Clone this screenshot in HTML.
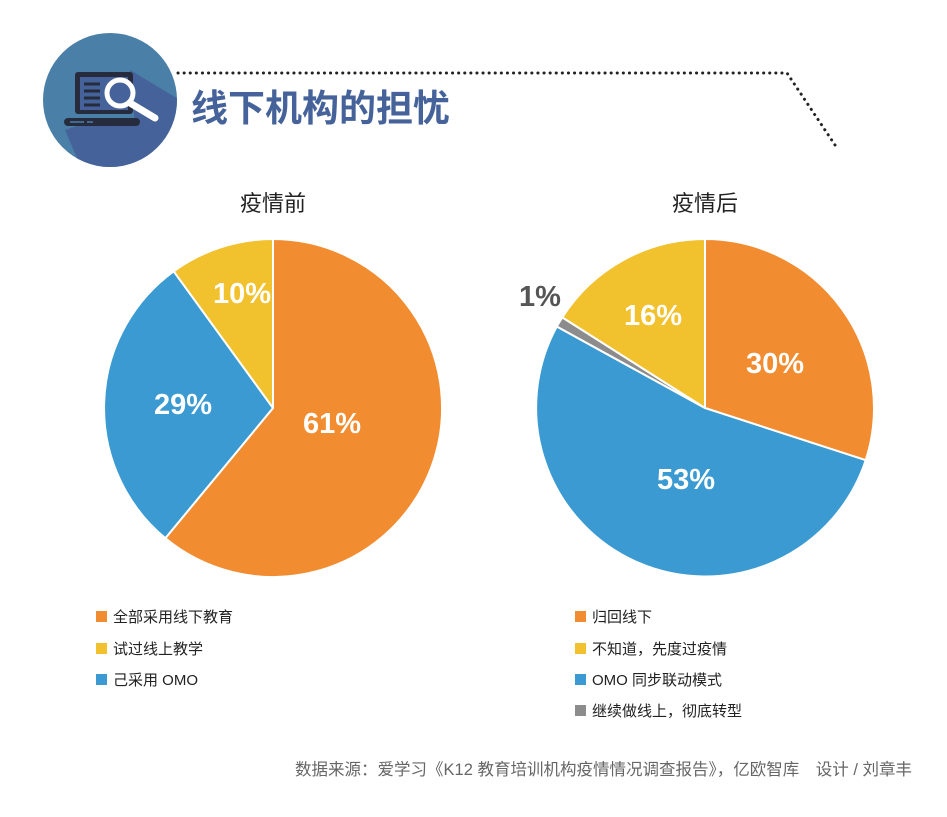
<!DOCTYPE html>
<html><head><meta charset="utf-8"><style>
body{margin:0;background:#fff;}
svg text{font-family:"Liberation Sans","Noto Sans CJK SC",sans-serif;}
</style></head><body>
<svg width="947" height="812" viewBox="0 0 947 812" xmlns="http://www.w3.org/2000/svg">
<defs><clipPath id="cc"><circle cx="110" cy="100" r="67"/></clipPath></defs>
<circle cx="110" cy="100" r="67" fill="#4A7FA7"/>
<polygon clip-path="url(#cc)" points="130,70 180,100 200,200 95,200 65,130 80,125 135,125" fill="#45639A"/>
<rect x="75" y="72" width="58" height="42" rx="3" fill="#262B3D"/>
<rect x="80" y="77" width="48" height="33" fill="#45639A"/>
<g stroke="#262B3D" stroke-width="3"><line x1="84" y1="84" x2="100" y2="84"/><line x1="84" y1="91" x2="100" y2="91"/><line x1="84" y1="98" x2="100" y2="98"/><line x1="84" y1="105" x2="100" y2="105"/></g>
<rect x="64" y="118" width="76" height="8" rx="4" fill="#262B3D"/>
<line x1="70" y1="122" x2="84" y2="122" stroke="#4A7FA7" stroke-width="1.5"/><line x1="87" y1="122" x2="93" y2="122" stroke="#4A7FA7" stroke-width="1.5"/>
<circle cx="120" cy="93" r="13" fill="#45639A" stroke="#fff" stroke-width="5"/>
<line x1="130" y1="103" x2="155" y2="118" stroke="#fff" stroke-width="7" stroke-linecap="round"/>
<text x="191" y="121" font-size="37" font-weight="bold" fill="#45639A">线下机构的担忧</text>
<polyline points="178,73 787,73 835,145" fill="none" stroke="#222" stroke-width="3" stroke-dasharray="0.1 6" stroke-linecap="round"/>
<text x="273" y="211" font-size="22" text-anchor="middle" fill="#222">疫情前</text>
<text x="705" y="211" font-size="22" text-anchor="middle" fill="#222">疫情后</text>
<g stroke="#fff" stroke-width="2" stroke-linejoin="round">
<path d="M273,408 L273,239 A169,169 0 1 1 165.3,538.2 Z" fill="#F28C30"/>
<path d="M273,408 L165.3,538.2 A169,169 0 0 1 173.7,271.3 Z" fill="#3A9AD1"/>
<path d="M273,408 L173.7,271.3 A169,169 0 0 1 273,239 Z" fill="#F2C12E"/>
<path d="M705,408 L705,239 A169,169 0 0 1 865.7,460.2 Z" fill="#F28C30"/>
<path d="M705,408 L865.7,460.2 A169,169 0 1 1 556.8,326.5 Z" fill="#3A9AD1"/>
<path d="M705,408 L556.8,326.5 A169,169 0 0 1 562.3,317.4 Z" fill="#8C8C8C"/>
<path d="M705,408 L562.3,317.4 A169,169 0 0 1 705,239 Z" fill="#F2C12E"/>
</g>
<g font-size="29" font-weight="bold" fill="#fff" text-anchor="middle">
<text x="332" y="433">61%</text><text x="183" y="414">29%</text><text x="242" y="303">10%</text>
<text x="775" y="373">30%</text><text x="686" y="489">53%</text><text x="653" y="325">16%</text>
</g>
<text x="540" y="306" font-size="29" font-weight="bold" fill="#555" text-anchor="middle">1%</text>
<g font-size="15" fill="#222">
<rect x="96" y="611" width="11" height="11" fill="#F28C30"/><text x="113" y="622">全部采用线下教育</text>
<rect x="96" y="643" width="11" height="11" fill="#F2C12E"/><text x="113" y="654">试过线上教学</text>
<rect x="96" y="674" width="11" height="11" fill="#3A9AD1"/><text x="113" y="685">己采用 OMO</text>
<rect x="575" y="611" width="11" height="11" fill="#F28C30"/><text x="592" y="622">归回线下</text>
<rect x="575" y="643" width="11" height="11" fill="#F2C12E"/><text x="592" y="654">不知道，先度过疫情</text>
<rect x="575" y="674" width="11" height="11" fill="#3A9AD1"/><text x="592" y="685">OMO 同步联动模式</text>
<rect x="575" y="705" width="11" height="11" fill="#8C8C8C"/><text x="592" y="716">继续做线上，彻底转型</text>
</g>
<text x="912" y="775" font-size="16.5" fill="#666" text-anchor="end">数据来源：爱学习《K12 教育培训机构疫情情况调查报告》，亿欧智库　设计 / 刘章丰</text>
</svg>
</body></html>
